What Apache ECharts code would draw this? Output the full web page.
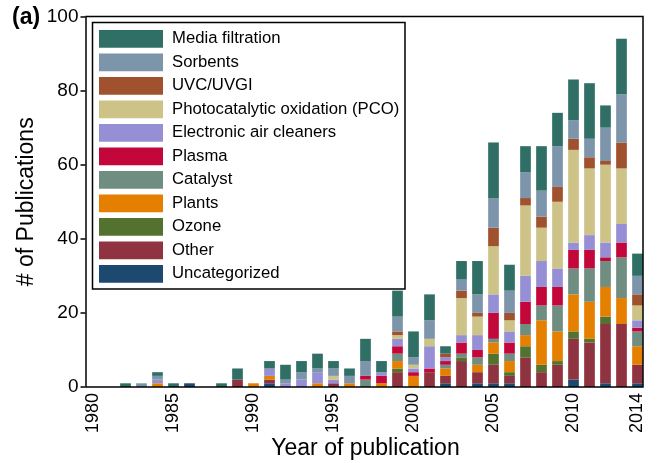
<!DOCTYPE html>
<html>
<head>
<meta charset="utf-8">
<script src="https://cdn.jsdelivr.net/npm/echarts@6/dist/echarts.min.js"></script>
<style>
  html, body { margin: 0; padding: 0; background: #fff; }
  #chart { width: 661px; height: 463px; }
</style>
</head>
<body>
<div id="chart"></div>
<script>
// Publication years, one bar per year
const years = ['1980', '1981', '1982', '1983', '1984', '1985', '1986', '1987', '1988', '1989',
               '1990', '1991', '1992', '1993', '1994', '1995', '1996', '1997', '1998', '1999',
               '2000', '2001', '2002', '2003', '2004', '2005', '2006', '2007', '2008', '2009',
               '2010', '2011', '2012', '2013', '2014'];

// Publications per year for each technology (stacked bottom to top)
const uncategorized = [0,0,0,0,0,0,1,0,0,0,0,1,0,0,0,0,0,0,0,0,0,0,1,0,1,1,1,0,0,0,2,0,1,0,1];
const other         = [0,0,0,0,0,0,0,0,0,2,0,1,0,0,0,1,0,0,0,4,0,4,2,7,3,5,2,8,4,6,11,12,16,17,5];
const ozone         = [0,0,0,0,0,0,0,0,0,0,0,0,0,0,0,0,0,0,0,1,0,0,0,1,0,3,1,3,2,1,2,1,2,0,0];
const plants        = [0,0,0,0,1,0,0,0,0,0,1,1,0,0,1,0,1,0,1,2,3,0,2,0,2,3,3,3,12,8,10,10,8,7,5];
const catalyst      = [0,0,0,0,0,0,0,0,0,0,0,0,0,0,0,0,0,2,0,2,0,0,1,1,2,1,2,3,4,7,7,9,7,11,4];
const plasma        = [0,0,0,0,0,0,0,0,0,0,0,0,0,0,0,0,0,1,2,2,1,1,1,3,2,7,3,6,5,5,5,5,1,4,1];
const electronic    = [0,0,0,0,1,0,0,0,0,0,0,2,1,2,3,1,0,0,1,2,1,6,1,2,4,5,3,7,7,5,2,4,4,5,2];
const pco           = [0,0,0,0,0,0,0,0,0,0,0,0,0,0,0,1,0,0,0,1,1,2,0,10,5,13,3,19,9,18,25,18,21,15,4];
const uvc           = [0,0,0,0,0,0,0,0,0,0,0,0,0,0,0,0,0,0,0,1,0,0,1,2,1,5,2,2,3,4,3,3,1,7,3];
const sorbents      = [0,0,0,1,1,0,0,0,0,0,0,0,1,2,1,2,2,4,0,4,2,5,0,3,5,8,6,7,7,11,5,5,9,13,5];
const media         = [0,0,1,0,1,1,0,0,1,3,0,2,4,3,4,2,2,6,3,7,7,7,2,5,9,15,7,7,12,9,11,15,6,15,6];

// Labelled years on the horizontal axis
const yearTicks = ['1980', '1985', '1990', '1995', '2000', '2005', '2010', '2014'];

const layers = [
  { name: 'Uncategorized', data: uncategorized, color: '#1d486f' },
  { name: 'Other', data: other, color: '#8f3340' },
  { name: 'Ozone', data: ozone, color: '#54722f' },
  { name: 'Plants', data: plants, color: '#e47f00' },
  { name: 'Catalyst', data: catalyst, color: '#6f8e81' },
  { name: 'Plasma', data: plasma, color: '#c3073a' },
  { name: 'Electronic air cleaners', data: electronic, color: '#978fd5' },
  { name: 'Photocatalytic oxidation (PCO)', data: pco, color: '#cdc386' },
  { name: 'UVC/UVGI', data: uvc, color: '#a0512e' },
  { name: 'Sorbents', data: sorbents, color: '#7d95ab' },
  { name: 'Media filtration', data: media, color: '#2f6f65' }
];

const FONT = 'Liberation Sans, Arial, Helvetica, sans-serif';

const chart = echarts.init(document.getElementById('chart'), null, { renderer: 'canvas' });

chart.setOption({
  backgroundColor: '#ffffff',
  animation: false,
  textStyle: { fontFamily: FONT, color: '#000' },
  grid: {
    left: 85.5, right: 15.5, top: 16.5, bottom: 76,
    outerBoundsMode: 'none',
    containLabel: false,
    show: false
  },
  xAxis: {
    type: 'category',
    data: years,
    boundaryGap: true,
    name: 'Year of publication',
    nameLocation: 'middle',
    nameGap: 50,
    nameMoveOverlap: false,
    nameTextStyle: { fontSize: 23, color: '#000', fontFamily: FONT },
    axisLine: { show: false },
    axisTick: { show: false },
    splitLine: { show: false },
    axisLabel: {
      interval: (idx, val) => yearTicks.includes(val),
      rotate: 90,
      fontSize: 18,
      margin: 6,
      color: '#000',
      fontFamily: FONT
    }
  },
  yAxis: {
    type: 'value',
    min: 0, max: 100, interval: 20,
    name: '# of Publications',
    nameLocation: 'middle',
    nameGap: 47,
    nameMoveOverlap: false,
    nameTextStyle: { fontSize: 23, color: '#000', fontFamily: FONT },
    axisLine: { show: false },
    axisTick: { show: true, inside: false, length: 5, lineStyle: { color: '#000', width: 1.5 } },
    splitLine: { show: false },
    axisLabel: { fontSize: 19, margin: 7, color: '#000', fontFamily: FONT }
  },
  legend: {
    orient: 'vertical',
    left: 99, top: 30,
    padding: 0,
    itemWidth: 64, itemHeight: 17.7, itemGap: 5.8,
    icon: 'rect',
    selectedMode: false,
    data: layers.slice().reverse().map(l => l.name),
    textStyle: { fontSize: 16.7, color: '#000', fontFamily: FONT, padding: [0, 0, 0, 4] }
  },
  graphic: [
    {
      // plot frame
      type: 'rect',
      shape: { x: 86, y: 16.5, width: 557, height: 370.5 },
      style: { fill: 'transparent', stroke: '#000', lineWidth: 1.5 },
      z: 100
    },
    {
      // legend frame
      type: 'rect',
      shape: { x: 92.5, y: 22.5, width: 312.5, height: 266.5 },
      style: { fill: 'transparent', stroke: '#000', lineWidth: 1.5 },
      z: 100
    },
    {
      type: 'text',
      left: 12, top: 6,
      style: { text: '(a)', font: 'bold 23px ' + FONT, fill: '#000' },
      z: 100
    }
  ],
  series: layers.map(l => ({
    name: l.name,
    type: 'bar',
    stack: 'total',
    barWidth: 10.7,
    itemStyle: { color: l.color },
    emphasis: { disabled: true },
    data: l.data
  }))
});
</script>
</body>
</html>
